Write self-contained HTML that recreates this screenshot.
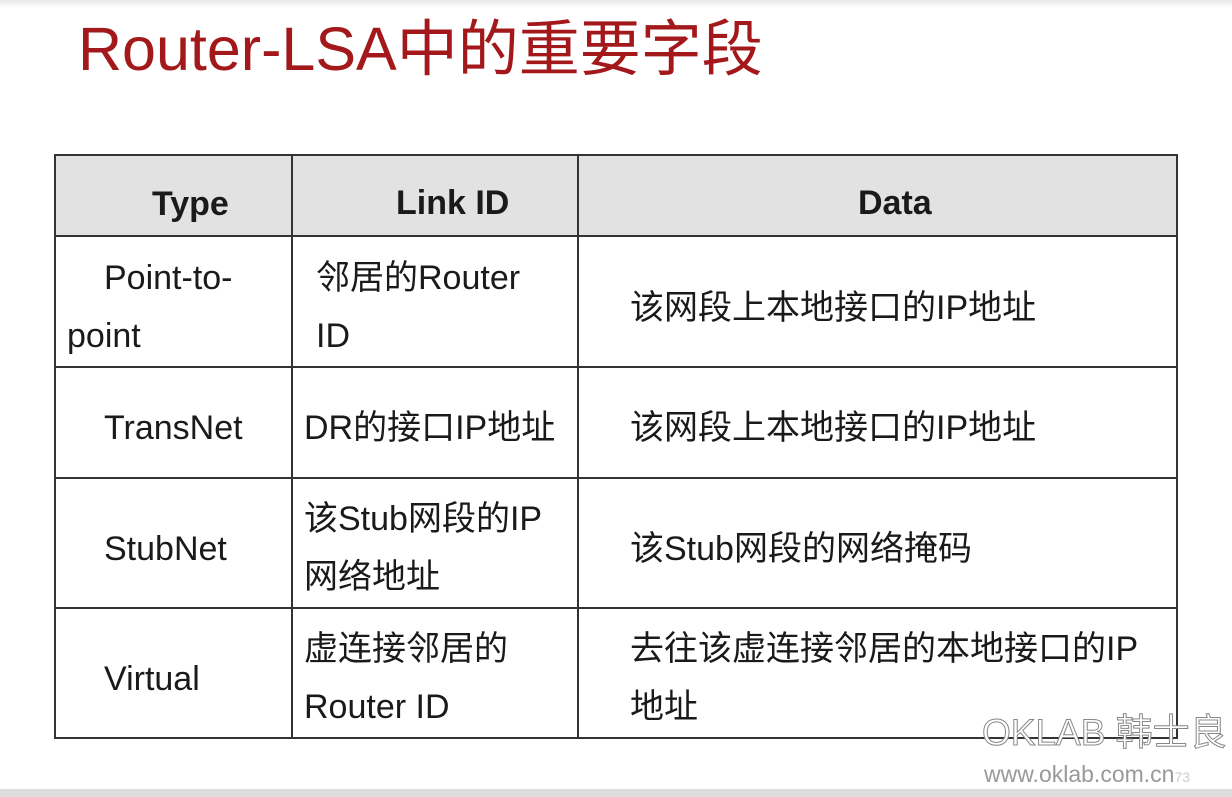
<!DOCTYPE html>
<html><head><meta charset="utf-8"><style>
body{margin:0;width:1232px;height:797px;background:#fff;position:relative;overflow:hidden;font-family:"Liberation Sans","Noto Sans CJK SC",sans-serif;}
.t{position:absolute;white-space:nowrap;color:#1a1a1a;font-size:34px;line-height:58px}
.h{font-weight:bold;font-size:34px}
.l{position:absolute;background:#333}
</style></head><body>
<div style="position:absolute;left:0;top:0;width:1232px;height:8px;background:linear-gradient(#e8e8e8,#fff)"></div>
<div class="t" style="left:78px;top:9px;font-size:61px;line-height:80px;color:#a3191b">Router-LSA中的重要字段</div>
<div style="position:absolute;left:54px;top:155px;width:1123px;height:81px;background:#e2e2e2"></div>
<div class="l" style="left:54px;top:154px;width:1124px;height:2px"></div>
<div class="l" style="left:54px;top:235px;width:1124px;height:2px"></div>
<div class="l" style="left:54px;top:366px;width:1124px;height:2px"></div>
<div class="l" style="left:54px;top:477px;width:1124px;height:2px"></div>
<div class="l" style="left:54px;top:607px;width:1124px;height:2px"></div>
<div class="l" style="left:54px;top:737px;width:1124px;height:2px"></div>
<div class="l" style="left:54px;top:154px;width:2px;height:585px"></div>
<div class="l" style="left:291px;top:154px;width:2px;height:585px"></div>
<div class="l" style="left:577px;top:154px;width:2px;height:585px"></div>
<div class="l" style="left:1176px;top:154px;width:2px;height:585px"></div>
<div class="t h" style="left:152px;top:175px">Type</div>
<div class="t h" style="left:396px;top:174px">Link ID</div>
<div class="t h" style="left:858px;top:174px">Data</div>
<div class="t" style="left:104px;top:249px">Point-to-</div>
<div class="t" style="left:67px;top:307px">point</div>
<div class="t" style="left:316px;top:249px">邻居的Router</div>
<div class="t" style="left:316px;top:307px">ID</div>
<div class="t" style="left:630px;top:279px">该网段上本地接口的IP地址</div>
<div class="t" style="left:104px;top:399px">TransNet</div>
<div class="t" style="left:304px;top:399px">DR的接口IP地址</div>
<div class="t" style="left:630px;top:399px">该网段上本地接口的IP地址</div>
<div class="t" style="left:104px;top:520px">StubNet</div>
<div class="t" style="left:304px;top:490px">该Stub网段的IP</div>
<div class="t" style="left:304px;top:548px">网络地址</div>
<div class="t" style="left:630px;top:520px">该Stub网段的网络掩码</div>
<div class="t" style="left:104px;top:650px">Virtual</div>
<div class="t" style="left:304px;top:620px">虚连接邻居的</div>
<div class="t" style="left:304px;top:678px">Router ID</div>
<div class="t" style="left:630px;top:620px">去往该虚连接邻居的本地接口的IP</div>
<div class="t" style="left:630px;top:678px">地址</div>
<div class="t" style="left:982px;top:710px;font-size:37px;line-height:46px;color:#fff;-webkit-text-stroke:1px #888">OKLAB 韩士良</div>
<div class="t" style="left:984px;top:760px;font-size:23px;line-height:28px;color:#999">www.oklab.com.cn<span style="font-size:14px;color:#ccc">73</span></div>
<div style="position:absolute;left:0;top:789px;width:1232px;height:8px;background:#ddd"></div>
</body></html>
